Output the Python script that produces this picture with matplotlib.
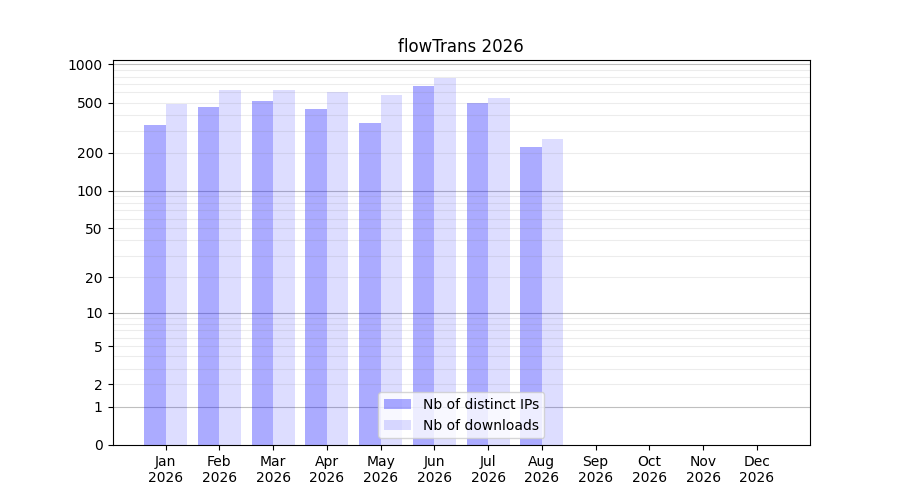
import numpy as np
import matplotlib
matplotlib.use("Agg")
import matplotlib.pyplot as plt

months = ["Jan", "Feb", "Mar", "Apr", "May", "Jun", "Jul", "Aug", "Sep", "Oct", "Nov", "Dec"]
year = "2026"
distinct_ips = [331, 458, 510, 442, 343, 670, 492, 221, 0, 0, 0, 0]
downloads = [484, 624, 628, 601, 569, 776, 539, 256, 0, 0, 0, 0]
ytick_vals = [0, 1, 2, 5, 10, 20, 50, 100, 200, 500, 1000]


def fwd(v):
    return np.log10(np.asarray(v, dtype=float) + 1)


def inv(v):
    return 10 ** np.asarray(v, dtype=float) - 1


fig, ax = plt.subplots(figsize=(9, 5), dpi=100)
x = np.arange(len(months))
ax.bar(x - 0.2, distinct_ips, width=0.4, color="blue", alpha=0.33, label="Nb of distinct IPs")
ax.bar(x + 0.2, downloads, width=0.4, color="blue", alpha=0.135, label="Nb of downloads")

ax.set_yscale("function", functions=(fwd, inv))
ax.set_yticks(ytick_vals)
ax.set_yticklabels([str(v) for v in ytick_vals])

# light lines at every 2..9 of each decade, darker ones at the decades
minor = [m * 10 ** k for k in range(3) for m in range(2, 10)]
ax.set_yticks(minor, minor=True)
ax.yaxis.remove_overlapping_locs = False
ax.tick_params(axis="y", which="minor", length=0)
ax.grid(axis="y", which="minor", color="grey", alpha=0.15, linewidth=0.8)
for d in [1, 10, 100, 1000]:
    ax.axhline(d, color="grey", alpha=0.5, linewidth=0.8, zorder=0.5)

ax.set_xticks(x)
ax.set_xticklabels([m + "\n" + year for m in months])
ax.set_title("flowTrans 2026")
ax.legend(loc="lower center")

plt.savefig("out.png")
